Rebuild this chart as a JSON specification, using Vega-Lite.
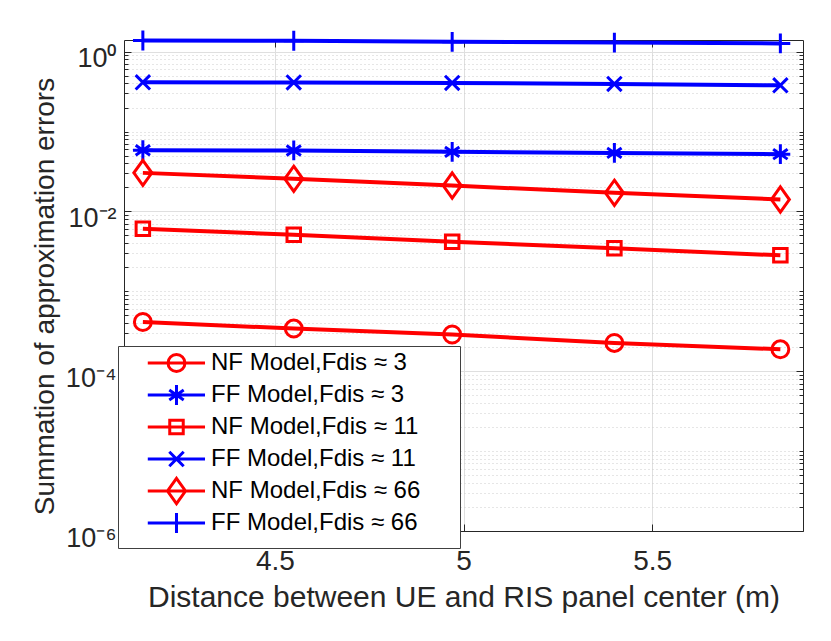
{
  "$schema": "https://vega.github.io/schema/vega-lite/v6.json",
  "width": 679,
  "height": 491,
  "autosize": {"type": "none"},
  "padding": {"left": 124, "top": 40, "right": 28, "bottom": 110},
  "config": {"view": {"stroke": null}, "font": "Liberation Sans"},
  "data": {"values": [
    {"series": "NF Model,Fdis ≈ 3", "x": 4.15, "y": 0.000413},
    {"series": "NF Model,Fdis ≈ 3", "x": 4.55, "y": 0.000342},
    {"series": "NF Model,Fdis ≈ 3", "x": 4.97, "y": 0.000288},
    {"series": "NF Model,Fdis ≈ 3", "x": 5.40, "y": 0.000226},
    {"series": "NF Model,Fdis ≈ 3", "x": 5.84, "y": 0.000188},
    {"series": "FF Model,Fdis ≈ 3", "x": 4.15, "y": 0.0584},
    {"series": "FF Model,Fdis ≈ 3", "x": 4.55, "y": 0.0580},
    {"series": "FF Model,Fdis ≈ 3", "x": 4.97, "y": 0.0557},
    {"series": "FF Model,Fdis ≈ 3", "x": 5.40, "y": 0.0541},
    {"series": "FF Model,Fdis ≈ 3", "x": 5.84, "y": 0.0521},
    {"series": "NF Model,Fdis ≈ 11", "x": 4.15, "y": 0.00607},
    {"series": "NF Model,Fdis ≈ 11", "x": 4.55, "y": 0.00511},
    {"series": "NF Model,Fdis ≈ 11", "x": 4.97, "y": 0.00418},
    {"series": "NF Model,Fdis ≈ 11", "x": 5.40, "y": 0.00345},
    {"series": "NF Model,Fdis ≈ 11", "x": 5.84, "y": 0.00282},
    {"series": "FF Model,Fdis ≈ 11", "x": 4.15, "y": 0.414},
    {"series": "FF Model,Fdis ≈ 11", "x": 4.55, "y": 0.412},
    {"series": "FF Model,Fdis ≈ 11", "x": 4.97, "y": 0.406},
    {"series": "FF Model,Fdis ≈ 11", "x": 5.40, "y": 0.395},
    {"series": "FF Model,Fdis ≈ 11", "x": 5.84, "y": 0.379},
    {"series": "NF Model,Fdis ≈ 66", "x": 4.15, "y": 0.0304},
    {"series": "NF Model,Fdis ≈ 66", "x": 4.55, "y": 0.0256},
    {"series": "NF Model,Fdis ≈ 66", "x": 4.97, "y": 0.0211},
    {"series": "NF Model,Fdis ≈ 66", "x": 5.40, "y": 0.0171},
    {"series": "NF Model,Fdis ≈ 66", "x": 5.84, "y": 0.0141},
    {"series": "FF Model,Fdis ≈ 66", "x": 4.15, "y": 1.38},
    {"series": "FF Model,Fdis ≈ 66", "x": 4.55, "y": 1.37},
    {"series": "FF Model,Fdis ≈ 66", "x": 4.97, "y": 1.33},
    {"series": "FF Model,Fdis ≈ 66", "x": 5.40, "y": 1.30},
    {"series": "FF Model,Fdis ≈ 66", "x": 5.84, "y": 1.27}
  ]},
  "layer": [
    {
      "mark": {"type": "line", "strokeWidth": 4},
      "encoding": {
        "x": {"field": "x", "type": "quantitative",
          "scale": {"domain": [4.1, 5.9], "nice": false, "zero": false},
          "axis": {"values": [4.5, 5, 5.5], "format": "~g", "grid": true, "gridColor": "#dfdfdf", "gridWidth": 1,
            "domainColor": "#262626", "domainWidth": 1, "tickColor": "#262626", "tickSize": -7, "tickWidth": 1,
            "labelFont": "Liberation Sans", "labelFontSize": 28, "labelColor": "#262626", "labelBaseline": "alphabetic", "labelPadding": 45,
            "title": "Distance between UE and RIS panel center (m)", "titleFont": "Liberation Sans", "titleFontSize": 30, "titleFontWeight": "normal",
            "titleColor": "#262626", "titleX": 339.5, "titleY": 75, "titleBaseline": "alphabetic", "titleAlign": "center"}},
        "y": {"field": "y", "type": "quantitative",
          "scale": {"type": "log", "domain": [0.000001, 1.4], "nice": false},
          "axis": {"values": [0.000001,0.000002,0.000003,0.000004,0.000005,0.000006,0.000007,0.000008,0.000009,
                              0.00001,0.00002,0.00003,0.00004,0.00005,0.00006,0.00007,0.00008,0.00009,
                              0.0001,0.0002,0.0003,0.0004,0.0005,0.0006,0.0007,0.0008,0.0009,
                              0.001,0.002,0.003,0.004,0.005,0.006,0.007,0.008,0.009,
                              0.01,0.02,0.03,0.04,0.05,0.06,0.07,0.08,0.09,
                              0.1,0.2,0.3,0.4,0.5,0.6,0.7,0.8,0.9,1],
            "labelExpr": "datum.value == 1 ? '10⁰' : datum.value == 0.01 ? '10⁻²' : datum.value == 0.0001 ? '10⁻⁴' : datum.value == 0.000001 ? '10⁻⁶' : ''",
            "grid": true,
            "gridColor": {"condition": {"test": "datum.value == 1 || datum.value == 0.01 || datum.value == 0.0001 || datum.value == 0.000001", "value": "#dfdfdf"}, "value": "#cccccc"},
            "gridDash": {"condition": {"test": "datum.value == 1 || datum.value == 0.01 || datum.value == 0.0001 || datum.value == 0.000001", "value": []}, "value": [1, 3]},
            "domainColor": "#262626", "domainWidth": 1, "tickColor": "#262626", "tickWidth": 1,
            "tickSize": {"condition": {"test": "datum.value == 1 || datum.value == 0.01 || datum.value == 0.0001 || datum.value == 0.000001", "value": -7}, "value": -4},
            "labelFont": "Liberation Sans", "labelFontSize": 27, "labelColor": "#262626", "labelPadding": 15, "labelOffset": 7, "labelOverlap": false, "labelBound": false,
            "title": "Summation of approximation errors", "titleFont": "Liberation Sans", "titleFontSize": 28, "titleFontWeight": "normal",
            "titleColor": "#262626", "titleX": -71, "titleY": 256, "titleAngle": -90, "titleBaseline": "alphabetic", "titleAlign": "center"}},
        "color": {"field": "series", "type": "nominal",
          "scale": {"domain": ["NF Model,Fdis ≈ 3", "FF Model,Fdis ≈ 3", "NF Model,Fdis ≈ 11", "FF Model,Fdis ≈ 11", "NF Model,Fdis ≈ 66", "FF Model,Fdis ≈ 66"],
                    "range": ["#ff0000", "#0000ff", "#ff0000", "#0000ff", "#ff0000", "#0000ff"]},
          "legend": null}
      }
    },
    {
      "mark": {"type": "point", "filled": false, "strokeWidth": 3, "size": 324, "opacity": 1},
      "encoding": {
        "x": {"field": "x", "type": "quantitative", "scale": {"domain": [4.1, 5.9], "nice": false, "zero": false}, "axis": null},
        "y": {"field": "y", "type": "quantitative", "scale": {"type": "log", "domain": [0.000001, 1.4], "nice": false}, "axis": null},
        "color": {"field": "series", "type": "nominal",
          "scale": {"domain": ["NF Model,Fdis ≈ 3", "FF Model,Fdis ≈ 3", "NF Model,Fdis ≈ 11", "FF Model,Fdis ≈ 11", "NF Model,Fdis ≈ 66", "FF Model,Fdis ≈ 66"],
                    "range": ["#ff0000", "#0000ff", "#ff0000", "#0000ff", "#ff0000", "#0000ff"]},
          "legend": null},
        "shape": {"field": "series", "type": "nominal",
          "scale": {"domain": ["NF Model,Fdis ≈ 3", "FF Model,Fdis ≈ 3", "NF Model,Fdis ≈ 11", "FF Model,Fdis ≈ 11", "NF Model,Fdis ≈ 66", "FF Model,Fdis ≈ 66"],
                    "range": [
                      "M-0.94,0A0.94,0.94 0 1,0 0.94,0A0.94,0.94 0 1,0 -0.94,0Z",
                      "M0,-1.1V1.1M-0.8,-0.55L0.8,0.55M-0.8,0.55L0.8,-0.55M-1.1,0H1.1",
                      "M-0.75,-0.75H0.75V0.75H-0.75Z",
                      "M-0.8,-0.8L0.8,0.8M-0.8,0.8L0.8,-0.8",
                      "M0,-1.4L1,0L0,1.4L-1,0Z",
                      "M-1.1,0H1.1M0,-1.1V1.1"
                    ]},
          "legend": null}
      }
    },
    {
      "mark": {"type": "point", "filled": false, "strokeWidth": 3, "size": 324, "opacity": 0},
      "encoding": {
        "x": {"field": "x", "type": "quantitative", "scale": {"domain": [4.1, 5.9], "nice": false, "zero": false},
          "axis": {"orient": "top", "values": [4.5, 5, 5.5], "labels": false, "grid": false, "title": null,
            "domainColor": "#262626", "domainWidth": 1, "tickColor": "#262626", "tickSize": -7, "tickWidth": 1}},
        "y": {"field": "y", "type": "quantitative", "scale": {"type": "log", "domain": [0.000001, 1.4], "nice": false},
          "axis": {"orient": "right", "values": [0.000001,0.000002,0.000003,0.000004,0.000005,0.000006,0.000007,0.000008,0.000009,
                              0.00001,0.00002,0.00003,0.00004,0.00005,0.00006,0.00007,0.00008,0.00009,
                              0.0001,0.0002,0.0003,0.0004,0.0005,0.0006,0.0007,0.0008,0.0009,
                              0.001,0.002,0.003,0.004,0.005,0.006,0.007,0.008,0.009,
                              0.01,0.02,0.03,0.04,0.05,0.06,0.07,0.08,0.09,
                              0.1,0.2,0.3,0.4,0.5,0.6,0.7,0.8,0.9,1],
            "labels": false, "grid": false, "title": null,
            "domainColor": "#262626", "domainWidth": 1, "tickColor": "#262626", "tickWidth": 1,
            "tickSize": {"condition": {"test": "datum.value == 1 || datum.value == 0.01 || datum.value == 0.0001 || datum.value == 0.000001", "value": -7}, "value": -4}}},
        "color": {"field": "series", "type": "nominal",
          "scale": {"domain": ["NF Model,Fdis ≈ 3", "FF Model,Fdis ≈ 3", "NF Model,Fdis ≈ 11", "FF Model,Fdis ≈ 11", "NF Model,Fdis ≈ 66", "FF Model,Fdis ≈ 66"],
                    "range": ["#ff0000", "#0000ff", "#ff0000", "#0000ff", "#ff0000", "#0000ff"]},
          "legend": {"orient": "none", "legendX": -6, "legendY": 306, "title": "\u00a0", "titleOrient": "right", "titlePadding": 35, "titleFontSize": 10, "padding": 5,
            "symbolSize": 324, "symbolStrokeWidth": 3, "symbolOpacity": 1, "rowPadding": -8, "labelOffset": 64,
            "labelFont": "Liberation Sans", "labelFontSize": 24, "labelColor": "#000000", "labelLimit": 400,
            "fillColor": "#ffffff", "strokeColor": "#404040", "cornerRadius": 0}},
        "shape": {"field": "series", "type": "nominal",
          "scale": {"domain": ["NF Model,Fdis ≈ 3", "FF Model,Fdis ≈ 3", "NF Model,Fdis ≈ 11", "FF Model,Fdis ≈ 11", "NF Model,Fdis ≈ 66", "FF Model,Fdis ≈ 66"],
                    "range": [
                      "M4.61,-1.45M4.61,1.45M1.42,0H7.78M3.67,0A0.94,0.94 0 1,0 5.55,0A0.94,0.94 0 1,0 3.67,0Z",
                      "M4.61,-1.45M4.61,1.45M1.42,0H7.78M4.61,-1.1V1.1M3.81,-0.55L5.41,0.55M3.81,0.55L5.41,-0.55",
                      "M4.61,-1.45M4.61,1.45M1.42,0H7.78M3.86,-0.75H5.36V0.75H3.86Z",
                      "M4.61,-1.45M4.61,1.45M1.42,0H7.78M3.81,-0.8L5.41,0.8M3.81,0.8L5.41,-0.8",
                      "M4.61,-1.45M4.61,1.45M1.42,0H7.78M4.61,-1.4L5.61,0L4.61,1.4L3.61,0Z",
                      "M4.61,-1.45M4.61,1.45M1.42,0H7.78M4.61,-1.1V1.1"
                    ]},
          "legend": {"orient": "none", "legendX": -6, "legendY": 306, "title": "\u00a0", "titleOrient": "right", "titlePadding": 35, "titleFontSize": 10, "padding": 5,
            "symbolSize": 324, "symbolStrokeWidth": 3, "symbolOpacity": 1, "rowPadding": -8, "labelOffset": 64,
            "labelFont": "Liberation Sans", "labelFontSize": 24, "labelColor": "#000000", "labelLimit": 400,
            "fillColor": "#ffffff", "strokeColor": "#404040", "cornerRadius": 0}}
      }
    }
  ],
  "resolve": {
    "scale": {"x": "independent", "y": "independent", "color": "independent", "shape": "independent"},
    "axis": {"x": "independent", "y": "independent"},
    "legend": {"color": "independent", "shape": "independent"}
  }
}
